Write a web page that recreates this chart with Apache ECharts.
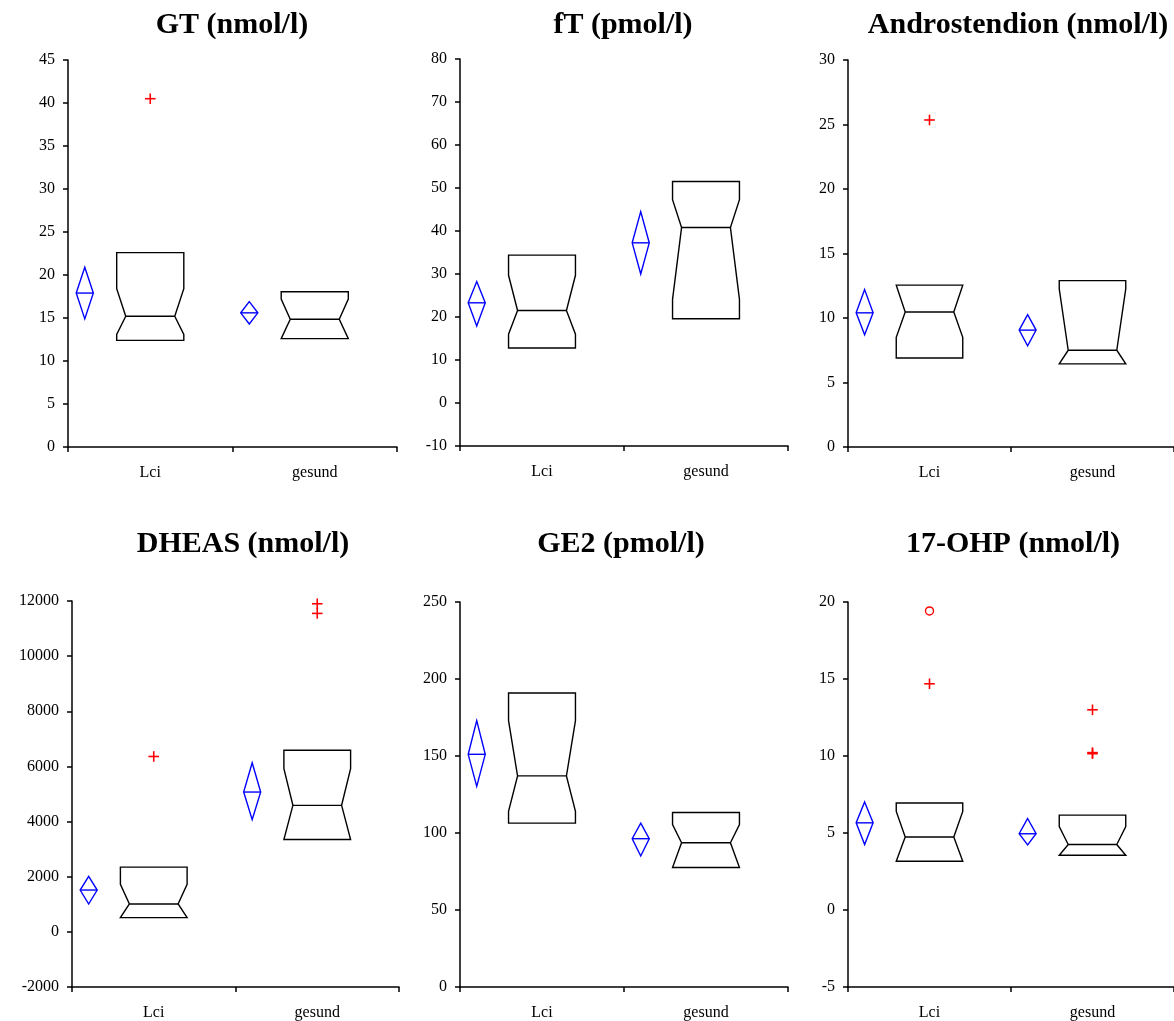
<!DOCTYPE html>
<html>
<head>
<meta charset="utf-8">
<title>Hormone notched boxplots</title>
<script src="https://cdn.jsdelivr.net/npm/echarts@6/dist/echarts.min.js"></script>
<style>
  html, body { margin: 0; padding: 0; background: #fff; }
  #chart { width: 1174px; height: 1021px; }
</style>
</head>
<body>
<div id="chart"></div>
<script>
const categories = ['Lci', 'gesund'];

// box per group: [q1, notchLow, median, notchHigh, q3]
// mean per group: [ciLow, mean, ciHigh]
// outliers: [group, value, kind]  ('+' outlier, 'o' far outlier)
const gtBox = [[12.4, 13.1, 15.2, 18.4, 22.6], [12.6, 12.6, 14.85, 17.2, 18.05]];
const gtMean = [[14.9, 17.9, 20.9], [14.3, 15.6, 16.9]];
const gtOutliers = [[0, 40.5, '+']];

const ftBox = [[12.8, 16.0, 21.5, 29.7, 34.4], [19.6, 24.1, 40.8, 47.3, 51.5]];
const ftMean = [[17.9, 23.3, 28.25], [30.0, 37.25, 44.5]];
const ftOutliers = [];

const androBox = [[6.9, 8.5, 10.47, 12.55, 12.55], [6.44, 6.44, 7.5, 12.26, 12.9]];
const androMean = [[8.7, 10.4, 12.2], [7.85, 9.06, 10.26]];
const androOutliers = [[0, 25.35, '+']];

const dheasBox = [[518, 518, 1010, 1722, 2348], [3349, 3349, 4589, 5915, 6589]];
const dheasMean = [[1010, 1517, 2011], [4071, 5071, 6132]];
const dheasOutliers = [[0, 6361, '+'], [1, 11900, '+'], [1, 11550, '+']];

const ge2Box = [[106.4, 114.1, 137.1, 173.0, 190.9], [77.6, 77.6, 93.7, 105.5, 113.3]];
const ge2Mean = [[130.3, 151.1, 173.0], [85.1, 96.3, 106.4]];
const ge2Outliers = [];

const ohpBox = [[3.17, 3.17, 4.74, 6.4, 6.95], [3.56, 3.56, 4.25, 5.41, 6.16]];
const ohpMean = [[4.25, 5.66, 7.02], [4.23, 4.95, 5.94]];
const ohpOutliers = [[0, 19.42, 'o'], [0, 14.69, '+'], [1, 13.0, '+'], [1, 10.15, '+'], [1, 10.22, '+']];

const panels = [
  { title: 'GT (nmol/l)', box: gtBox, mean: gtMean, outliers: gtOutliers, min: 0, max: 45, step: 5 },
  { title: 'fT (pmol/l)', box: ftBox, mean: ftMean, outliers: ftOutliers, min: -10, max: 80, step: 10 },
  { title: 'Androstendion (nmol/l)', box: androBox, mean: androMean, outliers: androOutliers, min: 0, max: 30, step: 5 },
  { title: 'DHEAS (nmol/l)', box: dheasBox, mean: dheasMean, outliers: dheasOutliers, min: -2000, max: 12000, step: 2000 },
  { title: 'GE2 (pmol/l)', box: ge2Box, mean: ge2Mean, outliers: ge2Outliers, min: 0, max: 250, step: 50 },
  { title: '17-OHP (nmol/l)', box: ohpBox, mean: ohpMean, outliers: ohpOutliers, min: -5, max: 20, step: 5 }
];

// layout
const gridRects = [
  { left: 68, top: 60, width: 329, height: 387 },
  { left: 460, top: 59, width: 328, height: 387 },
  { left: 848, top: 60, width: 329, height: 387 },
  { left: 72, top: 601, width: 327, height: 387 },
  { left: 460, top: 602, width: 328, height: 387 },
  { left: 848, top: 602, width: 329, height: 387 }
];
const titlePos = [[232, 25], [623, 25], [1018, 25], [243, 544], [621, 544], [1013, 544]];

const SERIF = '"Liberation Serif", "Times New Roman", serif';

function renderBox(params, api) {
  const cat = api.value(0);
  const y = i => api.coord([cat, api.value(i)])[1];
  const xc = api.coord([cat, api.value(1)])[0];
  const band = api.size([1, 0])[0];
  const hw = band * 0.204, inset = band * 0.055;
  const l = xc - hw, r = xc + hw;
  const yQ1 = y(1), yNL = y(2), yMed = y(3), yNH = y(4), yQ3 = y(5);
  const pts = [[l, yQ3], [r, yQ3], [r, yNH], [r - inset, yMed], [r, yNL], [r, yQ1],
    [l, yQ1], [l, yNL], [l + inset, yMed], [l, yNH]];
  return {
    type: 'group',
    children: [
      { type: 'polygon', shape: { points: pts }, style: { fill: 'none', stroke: '#000', lineWidth: 1.4 } },
      { type: 'line', shape: { x1: l + inset, y1: yMed, x2: r - inset, y2: yMed }, style: { stroke: '#000', lineWidth: 1.4 } }
    ]
  };
}

function renderMean(params, api) {
  const cat = api.value(0);
  const band = api.size([1, 0])[0];
  const cx = api.coord([cat, api.value(2)])[0] - band * 0.398;
  const hw = band * 0.052;
  const yLo = api.coord([cat, api.value(1)])[1];
  const yM = api.coord([cat, api.value(2)])[1];
  const yHi = api.coord([cat, api.value(3)])[1];
  return {
    type: 'group',
    children: [
      { type: 'polygon', shape: { points: [[cx, yHi], [cx + hw, yM], [cx, yLo], [cx - hw, yM]] },
        style: { fill: 'none', stroke: '#0000ff', lineWidth: 1.4 } },
      { type: 'line', shape: { x1: cx - hw, y1: yM, x2: cx + hw, y2: yM }, style: { stroke: '#0000ff', lineWidth: 1.4 } }
    ]
  };
}

function renderOutlier(params, api) {
  const p = api.coord([api.value(0), api.value(1)]);
  const kind = outlierKinds[params.seriesIndex][params.dataIndex];
  if (kind === 'o') {
    return { type: 'circle', shape: { cx: p[0], cy: p[1], r: 4 }, style: { fill: 'none', stroke: '#ff0000', lineWidth: 1.4 } };
  }
  const s = 5.3;
  return {
    type: 'group',
    children: [
      { type: 'line', shape: { x1: p[0] - s, y1: p[1], x2: p[0] + s, y2: p[1] }, style: { stroke: '#ff0000', lineWidth: 1.6 } },
      { type: 'line', shape: { x1: p[0], y1: p[1] - s, x2: p[0], y2: p[1] + s }, style: { stroke: '#ff0000', lineWidth: 1.6 } }
    ]
  };
}

const outlierKinds = {};
const grid = [], xAxis = [], yAxis = [], series = [], graphic = [];

panels.forEach((p, i) => {
  grid.push(Object.assign({ containLabel: false }, gridRects[i]));
  xAxis.push({
    gridIndex: i, type: 'category', data: categories, boundaryGap: true,
    axisLine: { onZero: false, lineStyle: { color: '#000', width: 1.5 } },
    axisTick: { show: true, length: 5, lineStyle: { color: '#000', width: 1.5 } },
    axisLabel: { color: '#000', fontFamily: SERIF, fontSize: 16, margin: 18 },
    splitLine: { show: false }
  });
  yAxis.push({
    gridIndex: i, type: 'value', min: p.min, max: p.max, interval: p.step,
    axisLine: { show: true, lineStyle: { color: '#000', width: 1.5 } },
    axisTick: { show: true, length: 5, lineStyle: { color: '#000', width: 1.5 } },
    axisLabel: { color: '#000', fontFamily: SERIF, fontSize: 16, margin: 13, formatter: v => String(v) },
    splitLine: { show: false }
  });
  series.push({
    type: 'custom', xAxisIndex: i, yAxisIndex: i, renderItem: renderBox,
    encode: { x: 0, y: [1, 2, 3, 4, 5] },
    data: p.box.map((b, k) => [k].concat(b)),
    silent: true
  });
  series.push({
    type: 'custom', xAxisIndex: i, yAxisIndex: i, renderItem: renderMean,
    encode: { x: 0, y: [1, 2, 3] },
    data: p.mean.map((m, k) => [k].concat(m)),
    silent: true
  });
  outlierKinds[series.length] = p.outliers.map(o => o[2]);
  series.push({
    type: 'custom', xAxisIndex: i, yAxisIndex: i, renderItem: renderOutlier,
    encode: { x: 0, y: 1 },
    data: p.outliers.map(o => [o[0], o[1]]),
    silent: true
  });
  graphic.push({
    type: 'text', x: titlePos[i][0], y: titlePos[i][1],
    style: { text: p.title, align: 'center', verticalAlign: 'middle', fill: '#000',
      font: 'bold 30px ' + SERIF }
  });
});

const myChart = echarts.init(document.getElementById('chart'));
myChart.setOption({
  animation: false,
  backgroundColor: '#fff',
  grid, xAxis, yAxis, series, graphic
});
</script>
</body>
</html>
